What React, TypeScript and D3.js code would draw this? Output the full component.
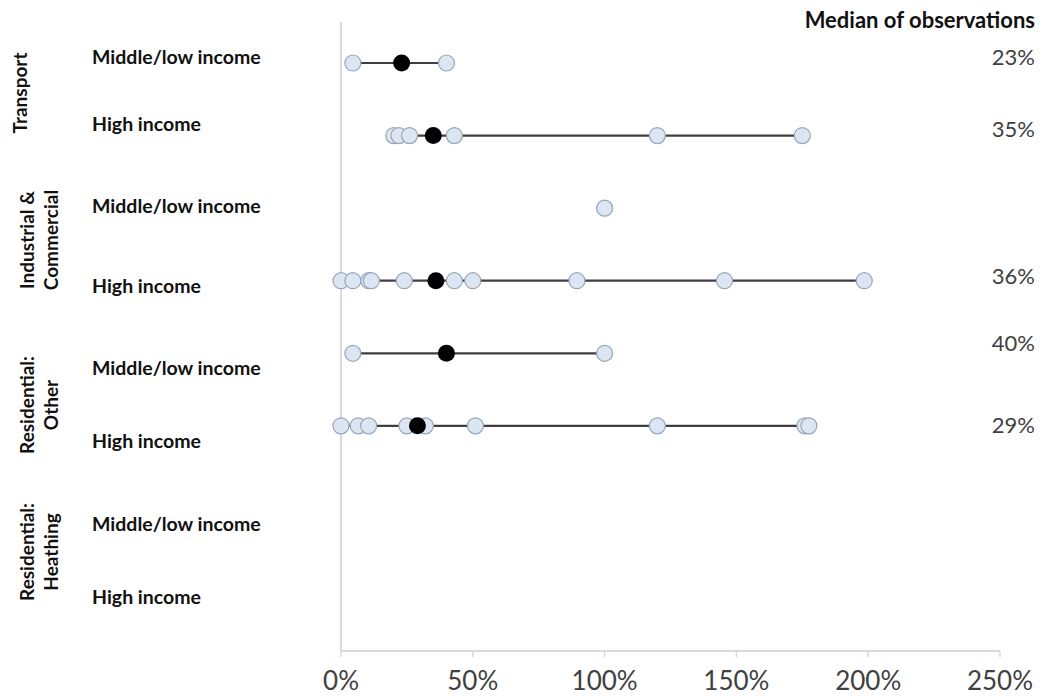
import React from "react";
import * as d3 from "d3";

// ---------- data ----------
const sectors = ["Transport", "Industrial & Commercial", "Residential: Other", "Residential: Heathing"];
const sectorLines = [["Transport"], ["Industrial &", "Commercial"], ["Residential:", "Other"], ["Residential:", "Heathing"]];
const incomeGroups = ["Middle/low income", "High income"];

// observations (% change), one array per row, top to bottom
const transportMiddleLow = [4.5, 40];
const transportHigh = [20, 22, 26, 43, 120, 175];
const industrialMiddleLow = [100];
const industrialHigh = [0, 4.5, 10.5, 11.5, 24, 43, 50, 89.5, 145.5, 198.5];
const resOtherMiddleLow = [4.5, 100];
const resOtherHigh = [0, 6.5, 10.5, 25, 32, 51, 120, 176, 177.5];
const resHeatingMiddleLow: number[] = [];
const resHeatingHigh: number[] = [];

// medians (null = none shown)
const medians: (number | null)[] = [23, 35, null, 36, 40, 29, null, null];
const medianLabels = ["23%", "35%", "", "36%", "40%", "29%", "", ""];

const xTicks = [0, 50, 100, 150, 200, 250];

const rows = [
  transportMiddleLow, transportHigh,
  industrialMiddleLow, industrialHigh,
  resOtherMiddleLow, resOtherHigh,
  resHeatingMiddleLow, resHeatingHigh,
];

// ---------- layout ----------
const W = 1043, H = 696;
const x0 = 341, x1 = 1000;
const rowTop = 63, rowBottom = 571;
const axisY = 651;
const rowLabelDy = [-6, -11, -2, 5, 15, 15, 26, 26];
const medianLabelDy = [-6, -6, 0, -4, -10, -1, 0, 0];
const sectorCenters = [93, 240, 405, 552];
const font = "Lato, 'Open Sans', sans-serif";

export default function App() {
  const x = d3.scaleLinear().domain([0, 250]).range([x0, x1]);
  const y = d3.scalePoint<number>().domain(d3.range(rows.length)).range([rowTop, rowBottom]);

  return (
    <svg width={W} height={H} style={{ position: "absolute", left: 0, top: 0, background: "#fff" }}
      fontFamily={font}>
      {/* axes */}
      <line x1={x0} x2={x0} y1={22} y2={axisY} stroke="#d9d9d9" strokeWidth={2} />
      <line x1={x0} x2={x1} y1={axisY} y2={axisY} stroke="#d9d9d9" strokeWidth={2} />
      {xTicks.map((t) => (
        <g key={t}>
          <line x1={x(t)} x2={x(t)} y1={axisY} y2={axisY + 6} stroke="#d9d9d9" strokeWidth={1.5} />
          <text x={x(t)} y={690} textAnchor="middle" fontSize={26} fill="#404040">{t}%</text>
        </g>
      ))}

      {/* rows */}
      {rows.map((vals, i) => {
        const yy = y(i)!;
        const all = medians[i] != null ? [...vals, medians[i] as number] : vals;
        const ext = d3.extent(all) as [number, number];
        return (
          <g key={i}>
            {all.length > 1 && (
              <line x1={x(ext[0])} x2={x(ext[1])} y1={yy} y2={yy} stroke="#3f3f3f" strokeWidth={2.2} />
            )}
            {vals.map((v, j) => (
              <circle key={j} cx={x(v)} cy={yy} r={8} fill="#dce6f2" stroke="#97a6b8" strokeWidth={1.2} />
            ))}
            {medians[i] != null && (
              <circle cx={x(medians[i] as number)} cy={yy} r={8.5} fill="#000" />
            )}
            <text x={92} y={yy + rowLabelDy[i]} dy="0.35em" fontSize={19.5} fontWeight="bold" fill="#111">
              {incomeGroups[i % 2]}
            </text>
            {medianLabels[i] && (
              <text x={1035} y={yy + medianLabelDy[i]} dy="0.35em" textAnchor="end" fontSize={22} fill="#404040">
                {medianLabels[i]}
              </text>
            )}
          </g>
        );
      })}

      {/* sector labels */}
      {sectors.map((s, k) => {
        const lines = sectorLines[k];
        const cx = lines.length === 1 ? 20 : 27;
        return (
          <text key={s} transform={`translate(${cx},${sectorCenters[k]}) rotate(-90)`} textAnchor="middle"
            fontSize={19} fontWeight="bold" fill="#111">
            {lines.map((l, m) => (
              <tspan key={m} x={0} dy={m === 0 ? "0.35em" : "1.3em"}>{l}</tspan>
            ))}
          </text>
        );
      })}

      <text x={1035} y={20} dy="0.35em" textAnchor="end" fontSize={22} fontWeight="bold" fill="#111">
        Median of observations
      </text>
    </svg>
  );
}
